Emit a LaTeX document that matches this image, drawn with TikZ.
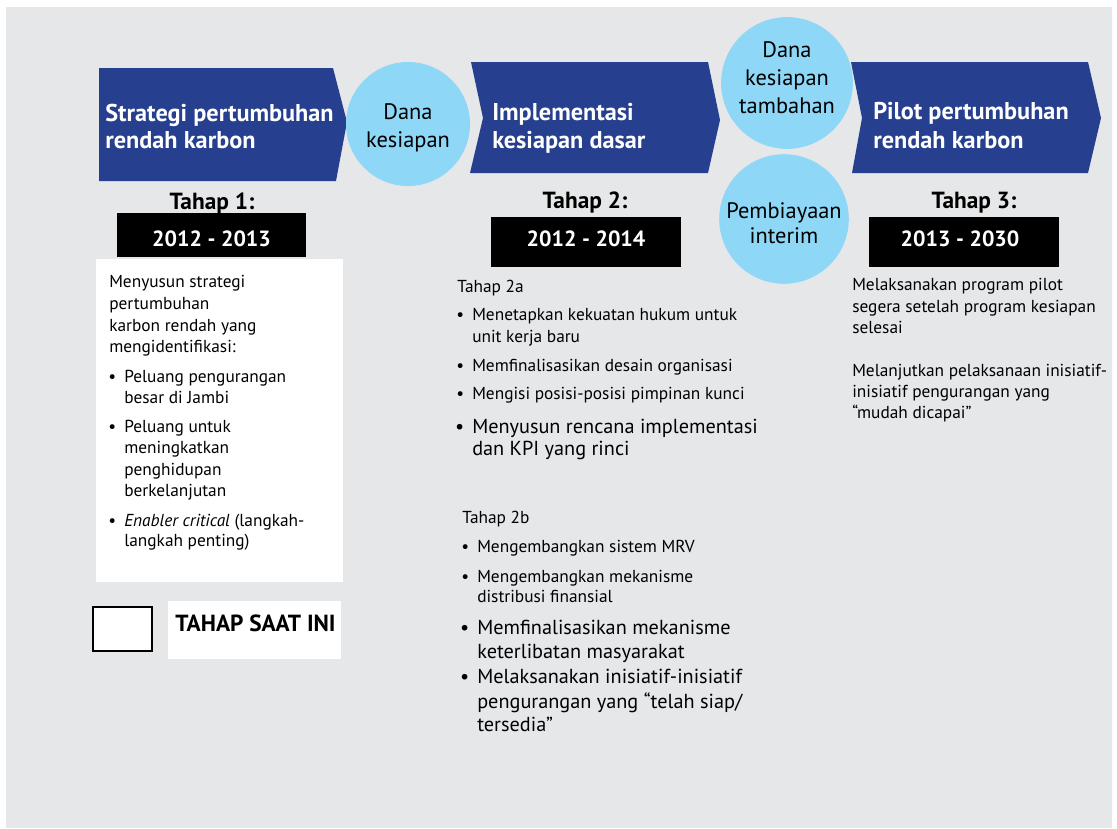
\documentclass[tikz,border=0pt]{standalone}
\usepackage{fontspec}
\setmainfont{PT Sans}
\definecolor{chevblue}{HTML}{273F8F}
\definecolor{bubbleblue}{HTML}{8ED7F7}
\definecolor{bggray}{HTML}{E6E7E9}
\newcommand{\headfont}{\fontsize{18.2}{20}\bfseries\selectfont}
\newcommand{\lblfont}{\fontsize{17.5}{20}\bfseries\selectfont}
\newcommand{\yearfont}{\fontsize{16.5}{20}\bfseries\selectfont}
\newcommand{\bubblefont}{\fontsize{16.8}{21}\selectfont}
\newcommand{\bodyfont}{\fontsize{13}{16}\selectfont}
\newcommand{\bigbody}{\fontsize{15.2}{17}\selectfont}
\newcommand{\bul}{\llap{\textbullet\hspace{6pt}}}
\tikzset{
  chev/.style={fill=chevblue},
  chevtext/.style={text=white, font=\headfont, anchor=base west, inner sep=0},
  bubble/.style={circle, fill=bubbleblue, minimum size=93pt, inner sep=0, align=center, font=\bubblefont},
  stagelbl/.style={font=\lblfont, anchor=base, inner sep=0},
  yearbox/.style={fill=black, inner sep=0},
  yeartext/.style={text=white, font=\yearfont, anchor=base, inner sep=0},
  body/.style={anchor=base west, inner sep=0, font=\bodyfont}
}
\begin{document}
\begin{tikzpicture}[x=0.75pt,y=-0.75pt]
  \useasboundingbox (0,0) rectangle (1117,828);
  \fill[white] (0,0) rectangle (1117,828);
  \fill[bggray] (6,7) rectangle (1112,828);

  % Chevrons of the three stages
  \fill[chev] (99,68) -- (333,68) -- (347,122) -- (336,181) -- (99,181) -- cycle;
  \fill[chev] (471,62) -- (708,62) -- (720,120) -- (708,173) -- (470,173) -- (483,118) -- cycle;
  \fill[chev] (851,62) -- (1088,62) -- (1101,118) -- (1088,173) -- (852,173) -- (862,118) -- cycle;
  \node[chevtext] (c1a) at (105,121) {Strategi pertumbuhan};
  \node[chevtext] (c1b) at (105,148) {rendah karbon};
  \node[chevtext] (c2a) at (492,120) {Implementasi};
  \node[chevtext] (c2b) at (492,148) {kesiapan dasar};
  \node[chevtext] (c3a) at (873,119) {Pilot pertumbuhan};
  \node[chevtext] (c3b) at (873,148) {rendah karbon};

  % Funding bubbles
  \node[bubble] (dana) at (408,124) {\rule{0pt}{19.5pt}Dana\\kesiapan\rule[-6pt]{0pt}{0pt}};
  \node[bubble] (tambahan) at (787,83) {\rule{0pt}{15pt}Dana\\kesiapan\\tambahan\rule[-11.25pt]{0pt}{0pt}};
  \node[bubble] (interim) at (784,219) {\rule{0pt}{21.75pt}Pembiayaan\\[-2.25pt]interim\rule[-4.5pt]{0pt}{0pt}};

  % Stage labels and years
  \node[stagelbl] (t1) at (212,209) {Tahap 1:};
  \node[stagelbl] (t2) at (585,208) {Tahap 2:};
  \node[stagelbl] (t3) at (974,208) {Tahap 3:};
  \node[yearbox, minimum width=141.75pt, minimum height=33pt] (y1) at (211.5,235) {};
  \node[yearbox, minimum width=142.5pt, minimum height=37.5pt] (y2) at (586,242) {};
  \node[yearbox, minimum width=142.5pt, minimum height=37.5pt] (y3) at (964,242) {};
  \node[yeartext] (y1t) at (211.5,246) {2012 - 2013};
  \node[yeartext] (y2t) at (586,246) {2012 - 2014};
  \node[yeartext] (y3t) at (960,246) {2013 - 2030};

  % Stage 1 text
  \fill[white] (96,259) rectangle (343,582);
  \foreach \y/\t [count=\i] in {287/Menyusun strategi, 309/pertumbuhan, 331/karbon rendah yang,
      352/mengidentifikasi:, 382/\bul Peluang pengurangan, 403/besar di Jambi,
      432/\bul Peluang untuk, 453/meningkatkan, 475/penghidupan, 496/berkelanjutan,
      526/\bul{\itshape Enabler critical} (langkah-, 546/langkah penting)}
    \node[body] (s1-\i) at ({\i>4 ? 124 : 109},\y) {\t};

  % Stage 2a
  \node[body] (s2a) at (457,292) {Tahap 2a};
  \foreach \y/\t [count=\i] in {320/\bul Menetapkan kekuatan hukum untuk, 342/unit kerja baru,
      371/\bul Memfinalisasikan desain organisasi, 399/\bul Mengisi posisi-posisi pimpinan kunci,
      433/\bigbody\bul Menyusun rencana implementasi, 455/\bigbody dan KPI yang rinci}
    \node[body] (s2a-\i) at (472,\y) {\t};

  % Stage 2b
  \node[body] (s2b) at (462,523) {Tahap 2b};
  \foreach \y/\t [count=\i] in {552/\bul Mengembangkan sistem MRV, 582/\bul Mengembangkan mekanisme,
      602/distribusi finansial, 634/\bigbody\bul Memfinalisasikan mekanisme,
      658/\bigbody keterlibatan masyarakat, 683/\bigbody\bul Melaksanakan inisiatif-inisiatif,
      708/{\bigbody pengurangan yang “telah siap/}, 731/\bigbody tersedia”}
    \node[body] (s2b-\i) at (477,\y) {\t};

  % Stage 3
  \foreach \y/\t [count=\i] in {290/Melaksanakan program pilot, 312/segera setelah program kesiapan,
      333/selesai, 376/Melanjutkan pelaksanaan inisiatif-, 397/inisiatif pengurangan yang,
      418/“mudah dicapai”}
    \node[body] (s3-\i) at (852,\y) {\t};

  % Legend
  \draw[black, line width=1.5pt, fill=white] (93,607) rectangle (152,651);
  \fill[white] (168,601) rectangle (341,659);
  \node[stagelbl, anchor=base west] (legend) at (175,631) {TAHAP SAAT INI};
\end{tikzpicture}
\end{document}
